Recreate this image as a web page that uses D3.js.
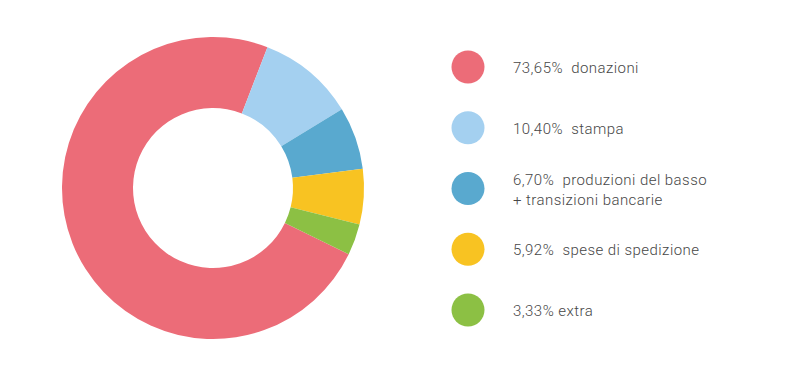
<!DOCTYPE html>
<html>
<head>
<meta charset="utf-8">
<script src="https://cdn.jsdelivr.net/npm/d3@7"></script>
<style>
  body { margin: 0; background: #fff; }
  .legend-text { font-family: Roboto, "Liberation Sans", sans-serif; font-weight: 300; font-size: 15px; letter-spacing: 0.45px; fill: #474747; white-space: pre; }
</style>
</head>
<body>
<div id="container"></div>
<script>
const labels = ["donazioni", "stampa", "produzioni del basso", "spese di spedizione", "extra"];
const subLabels = ["", "", "+ transizioni bancarie", "", ""];
const values = [73.65, 10.40, 6.70, 5.92, 3.33];
const valueText = ["73,65%  ", "10,40%  ", "6,70%  ", "5,92%  ", "3,33% "];
const colorList = ["#ec6c78", "#a4d0f0", "#59a9cf", "#f8c322", "#8cc044"];

const w = 800;
const h = 377;
const cx = 213, cy = 188;
const outerR = 151, innerR = 80;

const svg = d3.select("#container")
              .append("svg")
              .attr("width", w)
              .attr("height", h);

const startDeg = 116;
const pie = d3.pie()
              .sort(null)
              .value((d) => d)
              .startAngle(startDeg * Math.PI / 180)
              .endAngle(startDeg * Math.PI / 180 + 2 * Math.PI);
const arc = d3.arc().innerRadius(innerR).outerRadius(outerR);

svg.append("g")
   .attr("transform", "translate(" + cx + "," + cy + ")")
   .selectAll("path")
   .data(pie(values))
   .enter()
   .append("path")
   .attr("d", arc)
   .attr("fill", (d, i) => colorList[i]);

// legend
const legendY = d3.scalePoint()
                  .domain(d3.range(values.length))
                  .range([67, 310]);

const items = svg.selectAll(".legend-item")
                 .data(values)
                 .enter()
                 .append("g")
                 .attr("class", "legend-item")
                 .attr("transform", (d, i) => "translate(468," + legendY(i) + ")");

items.append("circle")
     .attr("r", 16.5)
     .attr("fill", (d, i) => colorList[i]);

items.append("text")
     .attr("class", "legend-text")
     .attr("x", 45)
     .attr("y", (d, i) => subLabels[i] ? -3.5 : 6)
     .text((d, i) => valueText[i] + labels[i]);

items.filter((d, i) => subLabels[i])
     .append("text")
     .attr("class", "legend-text")
     .attr("x", 45)
     .attr("y", 16)
     .text((d, i) => subLabels[values.indexOf(d)]);
</script>
</body>
</html>
